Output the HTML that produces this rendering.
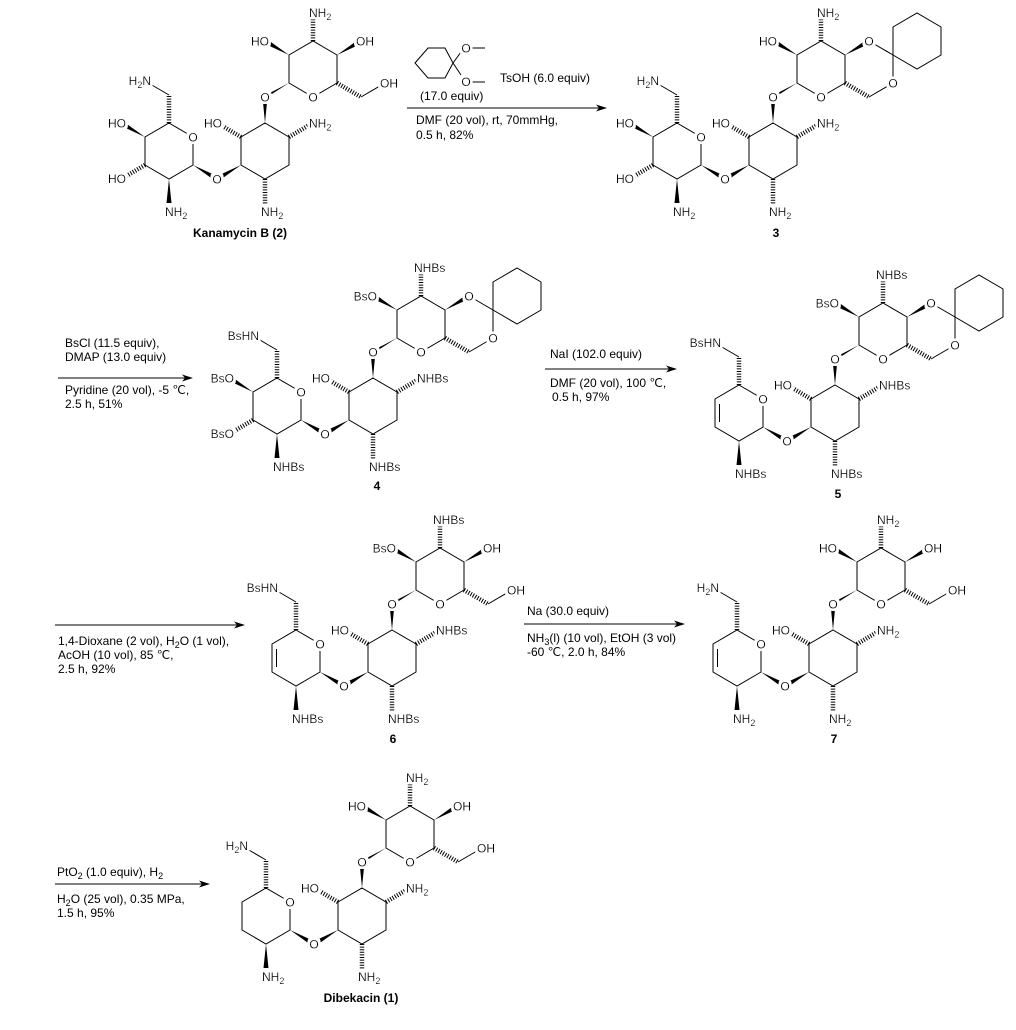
<!DOCTYPE html>
<html><head><meta charset="utf-8"><style>
html,body{margin:0;padding:0;background:#fff}
svg{display:block}
text{font-family:"Liberation Sans",Arial,sans-serif;font-size:12px;fill:#000}
.l{filter:url(#halo)}
.b{fill:none;stroke:#000;stroke-width:1}
.h{fill:none;stroke:#000;stroke-width:4.5;stroke-dasharray:1 1.6}
.w{fill:#000;stroke:none}
.bold{font-weight:bold}
</style></head><body>
<svg width="1016" height="1030" viewBox="0 0 1016 1030" xmlns="http://www.w3.org/2000/svg">
<defs>
<filter id="halo" x="-30%" y="-40%" width="160%" height="180%">
<feMorphology in="SourceAlpha" operator="dilate" radius="2.5" result="d"/>
<feFlood flood-color="#ffffff" result="f"/>
<feComposite in="f" in2="d" operator="in" result="bg"/>
<feMerge><feMergeNode in="bg"/><feMergeNode in="SourceGraphic"/></feMerge>
</filter>
<g id="mid">
<polygon class="b" points="0,0 24,14 24,42 0,56 -24,42 -24,14"/>
<polygon class="w" points="-72,42 -46.7,53.8 -49.3,58.2"/>
<polygon class="w" points="-24,42 -49.3,53.8 -46.7,58.2"/>
<polygon class="w" points="0,0 -2.5,-26 2.5,-26"/>
<polygon class="w" points="24,-40 1.3,-28.2 -1.3,-23.8"/>
<line class="h" x1="-24" y1="14" x2="-46" y2="1"/>
<line class="h" x1="24" y1="14" x2="46" y2="1"/>
<line class="h" x1="0" y1="56" x2="0" y2="82"/>
</g>
<g id="leftSat">
<polygon class="b" points="-96,0 -72,14 -72,42 -96,56 -120,42 -120,14"/>
<line class="h" x1="-96" y1="0" x2="-96" y2="-28"/>
<line class="b" x1="-96" y1="-28" x2="-120" y2="-42"/>
<polygon class="w" points="-120,14 -145.3,2.2 -142.7,-2.2"/>
<line class="h" x1="-120" y1="42" x2="-142" y2="55"/>
<polygon class="w" points="-96,56 -98.5,80 -93.5,80"/>
</g>
<g id="leftDi">
<polygon class="b" points="-96,0 -72,14 -72,42 -96,56 -120,42 -120,14"/>
<line class="b" x1="-115.5" y1="19" x2="-115.5" y2="37"/>
<line class="h" x1="-96" y1="0" x2="-96" y2="-28"/>
<line class="b" x1="-96" y1="-28" x2="-120" y2="-42"/>
<polygon class="w" points="-96,56 -98.5,80 -93.5,80"/>
</g>
<g id="topOpen">
<polygon class="b" points="24,-40 48,-26 72,-40 72,-68 48,-82 24,-68"/>
<polygon class="w" points="24,-68 -1.3,-79.8 1.3,-84.2"/>
<polygon class="w" points="72,-68 97.3,-79.8 94.7,-84.2"/>
<line class="h" x1="48" y1="-82" x2="48" y2="-106"/>
<line class="h" x1="72" y1="-40" x2="96" y2="-26"/>
<line class="b" x1="96" y1="-26" x2="120" y2="-40"/>
</g>
<g id="topAc">
<polygon class="b" points="24,-40 48,-26 72,-40 72,-68 48,-82 24,-68"/>
<polygon class="w" points="24,-68 -1.3,-79.8 1.3,-84.2"/>
<polygon class="w" points="72,-68 97.3,-79.8 94.7,-84.2"/>
<line class="h" x1="48" y1="-82" x2="48" y2="-106"/>
<line class="h" x1="72" y1="-40" x2="96" y2="-26"/>
<polyline class="b" points="96,-26 120,-40 120,-68 96,-82"/>
<polygon class="b" points="120,-68 120,-96 144,-110 168,-96 168,-68 144,-54"/>
</g>
<g id="ah"><polygon class="w" points="0,0 -11,-3.5 -8,0 -11,3.5"/></g>
</defs>

<!-- ============ Structure 2 ============ -->
<g transform="translate(265,123)">
<use href="#mid"/><use href="#leftSat"/><use href="#topOpen"/>
<text class="l" x="-72" y="18.5" text-anchor="middle">O</text>
<text class="l" x="-48" y="60.5" text-anchor="middle">O</text>
<text class="l" x="0" y="-21.5" text-anchor="middle">O</text>
<text class="l" x="48" y="-21.5" text-anchor="middle">O</text>
<text class="l" x="-114" y="-38" text-anchor="end">H<tspan font-size="9" dy="3">2</tspan><tspan dy="-3">N</tspan></text>
<text class="l" x="-139" y="4.5" text-anchor="end">HO</text>
<text class="l" x="-139" y="60" text-anchor="end">HO</text>
<text class="l" x="-100" y="93">NH<tspan font-size="9" dy="3">2</tspan></text>
<text class="l" x="-43" y="4.5" text-anchor="end">HO</text>
<text class="l" x="44" y="4.5">NH<tspan font-size="9" dy="3">2</tspan></text>
<text class="l" x="-4" y="93">NH<tspan font-size="9" dy="3">2</tspan></text>
<text class="l" x="4" y="-77.5" text-anchor="end">HO</text>
<text class="l" x="44" y="-106">NH<tspan font-size="9" dy="3">2</tspan></text>
<text class="l" x="91" y="-77.5">OH</text>
<text class="l" x="115" y="-35.5">OH</text>
</g>
<text class="bold" x="240" y="237" text-anchor="middle">Kanamycin B (2)</text>

<!-- Arrow 1 -->
<line class="b" x1="407" y1="108" x2="600" y2="108"/>
<use href="#ah" x="607" y="108"/>
<polygon class="b" points="415,63 428,48 445,48 453,63 445,78 428,78"/>
<line class="b" x1="453" y1="63" x2="461" y2="52"/>
<line class="b" x1="453" y1="63" x2="461" y2="75"/>
<line class="b" x1="470" y1="48" x2="485" y2="48"/>
<line class="b" x1="470" y1="82" x2="485" y2="82"/>
<text class="l" x="466" y="52.5" text-anchor="middle">O</text>
<text class="l" x="466" y="86" text-anchor="middle">O</text>
<text x="420" y="100">(17.0 equiv)</text>
<text x="500" y="82">TsOH (6.0 equiv)</text>
<text x="416" y="124">DMF (20 vol), rt, 70mmHg,</text>
<text x="416" y="139">0.5 h, 82%</text>

<!-- ============ Structure 3 ============ -->
<g transform="translate(773,123)">
<use href="#mid"/><use href="#leftSat"/><use href="#topAc"/>
<text class="l" x="-72" y="18.5" text-anchor="middle">O</text>
<text class="l" x="-48" y="60.5" text-anchor="middle">O</text>
<text class="l" x="0" y="-21.5" text-anchor="middle">O</text>
<text class="l" x="48" y="-21.5" text-anchor="middle">O</text>
<text class="l" x="96" y="-77.5" text-anchor="middle">O</text>
<text class="l" x="120" y="-35.5" text-anchor="middle">O</text>
<text class="l" x="-114" y="-38" text-anchor="end">H<tspan font-size="9" dy="3">2</tspan><tspan dy="-3">N</tspan></text>
<text class="l" x="-139" y="4.5" text-anchor="end">HO</text>
<text class="l" x="-139" y="60" text-anchor="end">HO</text>
<text class="l" x="-100" y="93">NH<tspan font-size="9" dy="3">2</tspan></text>
<text class="l" x="-43" y="4.5" text-anchor="end">HO</text>
<text class="l" x="44" y="4.5">NH<tspan font-size="9" dy="3">2</tspan></text>
<text class="l" x="-4" y="93">NH<tspan font-size="9" dy="3">2</tspan></text>
<text class="l" x="4" y="-77.5" text-anchor="end">HO</text>
<text class="l" x="44" y="-106">NH<tspan font-size="9" dy="3">2</tspan></text>
</g>
<text class="bold" x="776" y="237" text-anchor="middle">3</text>

<!-- Arrow 2 -->
<line class="b" x1="58" y1="378" x2="186" y2="378"/>
<use href="#ah" x="193" y="378"/>
<text x="65" y="347">BsCl (11.5 equiv),</text>
<text x="65" y="361">DMAP (13.0 equiv)</text>
<text x="65" y="394">Pyridine (20 vol), -5 ℃,</text>
<text x="65" y="408">2.5 h, 51%</text>

<!-- ============ Structure 4 ============ -->
<g transform="translate(373,378)">
<use href="#mid"/><use href="#leftSat"/><use href="#topAc"/>
<text class="l" x="-72" y="18.5" text-anchor="middle">O</text>
<text class="l" x="-48" y="60.5" text-anchor="middle">O</text>
<text class="l" x="0" y="-21.5" text-anchor="middle">O</text>
<text class="l" x="48" y="-21.5" text-anchor="middle">O</text>
<text class="l" x="96" y="-77.5" text-anchor="middle">O</text>
<text class="l" x="120" y="-35.5" text-anchor="middle">O</text>
<text class="l" x="-114" y="-38" text-anchor="end">BsHN</text>
<text class="l" x="-139" y="4.5" text-anchor="end">BsO</text>
<text class="l" x="-139" y="60" text-anchor="end">BsO</text>
<text class="l" x="-100" y="93">NHBs</text>
<text class="l" x="-43" y="4.5" text-anchor="end">HO</text>
<text class="l" x="44" y="4.5">NHBs</text>
<text class="l" x="-4" y="93">NHBs</text>
<text class="l" x="4" y="-77.5" text-anchor="end">BsO</text>
<text class="l" x="41" y="-106">NHBs</text>
</g>
<text class="bold" x="377" y="490" text-anchor="middle">4</text>

<!-- Arrow 3 -->
<line class="b" x1="545" y1="369" x2="670" y2="369"/>
<use href="#ah" x="677" y="369"/>
<text x="550" y="358">NaI (102.0 equiv)</text>
<text x="550" y="387">DMF (20 vol), 100 ℃,</text>
<text x="552" y="401">0.5 h, 97%</text>

<!-- ============ Structure 5 ============ -->
<g transform="translate(835,385)">
<use href="#mid"/><use href="#leftDi"/><use href="#topAc"/>
<text class="l" x="-72" y="18.5" text-anchor="middle">O</text>
<text class="l" x="-48" y="60.5" text-anchor="middle">O</text>
<text class="l" x="0" y="-21.5" text-anchor="middle">O</text>
<text class="l" x="48" y="-21.5" text-anchor="middle">O</text>
<text class="l" x="96" y="-77.5" text-anchor="middle">O</text>
<text class="l" x="120" y="-35.5" text-anchor="middle">O</text>
<text class="l" x="-114" y="-38" text-anchor="end">BsHN</text>
<text class="l" x="-100" y="93">NHBs</text>
<text class="l" x="-43" y="4.5" text-anchor="end">HO</text>
<text class="l" x="44" y="4.5">NHBs</text>
<text class="l" x="-4" y="93">NHBs</text>
<text class="l" x="4" y="-77.5" text-anchor="end">BsO</text>
<text class="l" x="41" y="-106">NHBs</text>
</g>
<text class="bold" x="838" y="498" text-anchor="middle">5</text>

<!-- Arrow 4 -->
<line class="b" x1="55" y1="625" x2="238" y2="625"/>
<use href="#ah" x="245" y="625"/>
<text x="58" y="645">1,4-Dioxane (2 vol), H<tspan font-size="9" dy="3">2</tspan><tspan dy="-3">O (1 vol),</tspan></text>
<text x="58" y="659">AcOH (10 vol), 85 ℃,</text>
<text x="58" y="673">2.5 h, 92%</text>

<!-- ============ Structure 6 ============ -->
<g transform="translate(392,630)">
<use href="#mid"/><use href="#leftDi"/><use href="#topOpen"/>
<text class="l" x="-72" y="18.5" text-anchor="middle">O</text>
<text class="l" x="-48" y="60.5" text-anchor="middle">O</text>
<text class="l" x="0" y="-21.5" text-anchor="middle">O</text>
<text class="l" x="48" y="-21.5" text-anchor="middle">O</text>
<text class="l" x="-114" y="-38" text-anchor="end">BsHN</text>
<text class="l" x="-100" y="93">NHBs</text>
<text class="l" x="-43" y="4.5" text-anchor="end">HO</text>
<text class="l" x="44" y="4.5">NHBs</text>
<text class="l" x="-4" y="93">NHBs</text>
<text class="l" x="4" y="-77.5" text-anchor="end">BsO</text>
<text class="l" x="41" y="-106">NHBs</text>
<text class="l" x="91" y="-77.5">OH</text>
<text class="l" x="115" y="-35.5">OH</text>
</g>
<text class="bold" x="393" y="743" text-anchor="middle">6</text>

<!-- Arrow 5 -->
<line class="b" x1="524" y1="624" x2="678" y2="624"/>
<use href="#ah" x="685" y="624"/>
<text x="527" y="615">Na (30.0 equiv)</text>
<text x="527" y="642">NH<tspan font-size="9" dy="3">3</tspan><tspan dy="-3">(l) (10 vol), EtOH (3 vol)</tspan></text>
<text x="527" y="656">-60 ℃,  2.0 h, 84%</text>

<!-- ============ Structure 7 ============ -->
<g transform="translate(833,630)">
<use href="#mid"/><use href="#leftDi"/><use href="#topOpen"/>
<text class="l" x="-72" y="18.5" text-anchor="middle">O</text>
<text class="l" x="-48" y="60.5" text-anchor="middle">O</text>
<text class="l" x="0" y="-21.5" text-anchor="middle">O</text>
<text class="l" x="48" y="-21.5" text-anchor="middle">O</text>
<text class="l" x="-114" y="-38" text-anchor="end">H<tspan font-size="9" dy="3">2</tspan><tspan dy="-3">N</tspan></text>
<text class="l" x="-100" y="93">NH<tspan font-size="9" dy="3">2</tspan></text>
<text class="l" x="-43" y="4.5" text-anchor="end">HO</text>
<text class="l" x="44" y="4.5">NH<tspan font-size="9" dy="3">2</tspan></text>
<text class="l" x="-4" y="93">NH<tspan font-size="9" dy="3">2</tspan></text>
<text class="l" x="4" y="-77.5" text-anchor="end">HO</text>
<text class="l" x="44" y="-106">NH<tspan font-size="9" dy="3">2</tspan></text>
<text class="l" x="91" y="-77.5">OH</text>
<text class="l" x="115" y="-35.5">OH</text>
</g>
<text class="bold" x="834" y="743" text-anchor="middle">7</text>

<!-- Arrow 6 -->
<line class="b" x1="55" y1="884" x2="203" y2="884"/>
<use href="#ah" x="210" y="884"/>
<text x="57" y="876">PtO<tspan font-size="9" dy="3">2</tspan><tspan dy="-3"> (1.0 equiv), H</tspan><tspan font-size="9" dy="3">2</tspan></text>
<text x="57" y="903">H<tspan font-size="9" dy="3">2</tspan><tspan dy="-3">O (25 vol), 0.35 MPa,</tspan></text>
<text x="57" y="917">1.5 h, 95%</text>

<!-- ============ Structure 1 ============ -->
<g transform="translate(362,888)">
<use href="#mid"/><use href="#topOpen"/>
<polygon class="b" points="-96,0 -72,14 -72,42 -96,56 -120,42 -120,14"/>
<line class="h" x1="-96" y1="0" x2="-96" y2="-28"/>
<line class="b" x1="-96" y1="-28" x2="-120" y2="-42"/>
<polygon class="w" points="-96,56 -98.5,80 -93.5,80"/>
<text class="l" x="-72" y="18.5" text-anchor="middle">O</text>
<text class="l" x="-48" y="60.5" text-anchor="middle">O</text>
<text class="l" x="0" y="-21.5" text-anchor="middle">O</text>
<text class="l" x="48" y="-21.5" text-anchor="middle">O</text>
<text class="l" x="-114" y="-38" text-anchor="end">H<tspan font-size="9" dy="3">2</tspan><tspan dy="-3">N</tspan></text>
<text class="l" x="-100" y="93">NH<tspan font-size="9" dy="3">2</tspan></text>
<text class="l" x="-43" y="4.5" text-anchor="end">HO</text>
<text class="l" x="44" y="4.5">NH<tspan font-size="9" dy="3">2</tspan></text>
<text class="l" x="-4" y="93">NH<tspan font-size="9" dy="3">2</tspan></text>
<text class="l" x="4" y="-77.5" text-anchor="end">HO</text>
<text class="l" x="44" y="-106">NH<tspan font-size="9" dy="3">2</tspan></text>
<text class="l" x="91" y="-77.5">OH</text>
<text class="l" x="115" y="-35.5">OH</text>
</g>
<text class="bold" x="361" y="1002" text-anchor="middle">Dibekacin (1)</text>
</svg>
</body></html>
